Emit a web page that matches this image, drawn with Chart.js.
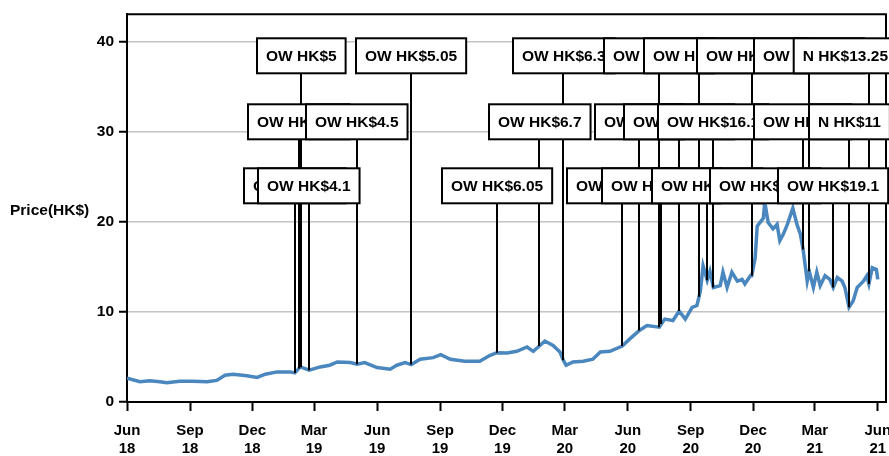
<!DOCTYPE html>
<html>
<head>
<meta charset="utf-8">
<script src="https://cdn.jsdelivr.net/npm/chart.js@4/dist/chart.umd.min.js"></script>
<style>
  html, body { margin: 0; padding: 0; background: #fff; }
</style>
</head>
<body>
<canvas id="priceChart" width="889" height="456"></canvas>
<script>
// price series (HK$)
var dates = [
  '2018-06-01','2018-06-20','2018-07-04','2018-07-19','2018-07-29','2018-08-17','2018-09-05','2018-09-26',
  '2018-10-10','2018-10-22','2018-11-03','2018-11-23','2018-12-08','2018-12-20','2019-01-06','2019-01-25',
  '2019-02-01','2019-02-09','2019-02-16','2019-02-22','2019-03-10','2019-03-24','2019-04-04','2019-04-23',
  '2019-05-03','2019-05-14','2019-06-01','2019-06-20','2019-06-30','2019-07-12','2019-07-21','2019-08-03',
  '2019-08-22','2019-09-02','2019-09-16','2019-10-07','2019-10-29','2019-11-13','2019-11-23','2019-12-08',
  '2019-12-22','2020-01-06','2020-01-15','2020-01-24','2020-02-01','2020-02-13','2020-02-23','2020-02-28',
  '2020-03-03','2020-03-13','2020-03-28','2020-04-11','2020-04-22','2020-05-06','2020-05-24','2020-06-04',
  '2020-06-18','2020-06-29','2020-07-17','2020-07-25','2020-08-06','2020-08-15','2020-08-24','2020-09-03',
  '2020-09-10','2020-09-15','2020-09-19','2020-09-25','2020-09-29','2020-10-04','2020-10-14','2020-10-18',
  '2020-10-24','2020-10-31','2020-11-08','2020-11-15','2020-11-19','2020-11-27','2020-11-29','2020-12-04',
  '2020-12-07','2020-12-16','2020-12-18','2020-12-23','2020-12-30','2021-01-05','2021-01-09','2021-01-14',
  '2021-01-20','2021-01-28','2021-02-03','2021-02-08','2021-02-12','2021-02-18','2021-02-21','2021-02-27',
  '2021-03-04','2021-03-09','2021-03-16','2021-03-23','2021-03-28','2021-04-03','2021-04-10','2021-04-14',
  '2021-04-20','2021-04-26','2021-05-02','2021-05-11','2021-05-16','2021-05-19','2021-05-24','2021-05-30',
  '2021-06-01'
];
var prices = [
  2.64, 2.24, 2.35, 2.24, 2.13, 2.3, 2.3, 2.24,
  2.4, 2.97, 3.08, 2.9, 2.72, 3.08, 3.34, 3.34,
  3.23, 3.89, 3.71, 3.53, 3.89, 4.08, 4.44, 4.37,
  4.19, 4.37, 3.82, 3.64, 4.08, 4.37, 4.15, 4.74,
  4.92, 5.25, 4.74, 4.52, 4.52, 5.18, 5.47, 5.43,
  5.62, 6.1, 5.62, 6.21, 6.76, 6.28, 5.54, 4.63,
  4.08, 4.44, 4.52, 4.74, 5.54, 5.62, 6.2, 7.0,
  7.93, 8.48, 8.3, 9.2, 9.04, 10.1, 9.2, 10.5,
  10.7, 12.3, 15.1, 13.5, 14.5, 12.7, 12.9, 14.4,
  12.7, 14.4, 13.4, 13.6, 13.1, 14.0, 14.0, 16.0,
  19.5, 20.4, 22.2, 19.9, 19.2, 19.7, 17.9, 18.6,
  19.7, 21.5, 19.7, 18.6, 16.9, 13.4, 14.5, 12.7,
  14.4, 12.9, 14.0, 13.6, 12.7, 13.8, 13.4, 12.7,
  10.5, 11.2, 12.7, 13.4, 14.0, 13.1, 14.9, 14.7,
  13.6
];

// rating callouts
var noteDates = [
  '2019-02-01','2019-02-07','2019-02-10','2019-02-22','2019-05-03','2019-07-21',
  '2019-11-23','2020-01-24','2020-02-28','2020-05-24','2020-06-18','2020-07-17',
  '2020-07-20','2020-08-15','2020-09-13','2020-09-25','2020-10-04','2020-11-29',
  '2020-12-18','2021-02-12','2021-02-21','2021-03-28','2021-04-20','2021-05-19'
];
var noteLabels = [
  'OW HK$4.3','OW HK$4.4','OW HK$5','OW HK$4.1','OW HK$4.5','OW HK$5.05',
  'OW HK$6.05','OW HK$6.7','OW HK$6.3','OW HK$6.45','OW HK$8','OW HK$9.35',
  'OW HK$10.15','OW HK$10.6','OW HK$12.3','OW HK$15.3','OW HK$16.1','OW HK$17.5',
  'OW HK$21.2','OW HK$23','OW HK$22.1','OW HK$19.1','N HK$11','N HK$13.25'
];

var yTicks = [0, 10, 20, 30, 40];
var xTickDates = ['2018-06-01','2018-09-01','2018-12-01','2019-03-01','2019-06-01','2019-09-01',
  '2019-12-01','2020-03-01','2020-06-01','2020-09-01','2020-12-01','2021-03-01','2021-06-01'];
var monthNames = ['Jan','Feb','Mar','Apr','May','Jun','Jul','Aug','Sep','Oct','Nov','Dec'];

var FONT = '"Liberation Sans", Arial, sans-serif';

function ts(d) {
  var p = d.split('-');
  return Date.UTC(+p[0], +p[1] - 1, +p[2]);
}

var points = dates.map(function (d, i) { return { x: ts(d), y: prices[i] }; });

function priceAt(t) {
  for (var i = 1; i < points.length; i++) {
    if (points[i].x >= t) {
      var a = points[i - 1], b = points[i];
      return a.y + (b.y - a.y) * (t - a.x) / (b.x - a.x);
    }
  }
  return points[points.length - 1].y;
}

var calloutPlugin = {
  id: 'callouts',
  afterDatasetsDraw: function (chart) {
    var ctx = chart.ctx, area = chart.chartArea;
    var xs = chart.scales.x, ys = chart.scales.y;
    var rowTops = [24, 90, 154], boxH = 35, padX = 9;

    ctx.save();
    // top / right frame
    ctx.strokeStyle = '#000';
    ctx.lineWidth = 2;
    ctx.beginPath();
    ctx.moveTo(area.left, area.top);
    ctx.lineTo(area.right, area.top);
    ctx.lineTo(area.right, area.bottom);
    ctx.stroke();

    // y axis title, horizontal
    ctx.fillStyle = '#000';
    ctx.font = 'bold 15.5px ' + FONT;
    ctx.textAlign = 'left';
    ctx.textBaseline = 'middle';
    ctx.fillText('Price(HK$)', 10, 211);

    var boxes = noteDates.map(function (d, i) {
      var t = ts(d);
      var row = 2 - (i % 3);
      var px = xs.getPixelForValue(t);
      var py = ys.getPixelForValue(priceAt(t));
      var w = ctx.measureText(noteLabels[i]).width + padX * 2;
      var left = Math.round(px - w / 2);
      if (left + w > chart.width + 8) left = chart.width + 8 - w;
      return { px: px, py: py, left: left, w: w, top: area.top + rowTops[row], label: noteLabels[i] };
    });

    // connectors
    ctx.lineWidth = 2;
    boxes.forEach(function (b) {
      ctx.beginPath();
      ctx.moveTo(Math.round(b.px), b.top + boxH);
      ctx.lineTo(Math.round(b.px), b.py);
      ctx.stroke();
    });

    // label boxes
    boxes.forEach(function (b) {
      ctx.fillStyle = '#fff';
      ctx.fillRect(b.left, b.top, b.w, boxH);
      ctx.strokeRect(b.left, b.top, b.w, boxH);
      ctx.fillStyle = '#000';
      ctx.fillText(b.label, b.left + padX, b.top + boxH / 2 + 1);
    });
    ctx.restore();
  }
};

var ctx = document.getElementById('priceChart').getContext('2d');
var priceChart = new Chart(ctx, {
  type: 'line',
  data: {
    datasets: [{
      label: 'Price',
      data: points,
      borderColor: '#4b87bf',
      borderWidth: 3.5,
      pointRadius: 0,
      tension: 0,
      fill: false
    }]
  },
  options: {
    responsive: false,
    animation: false,
    layout: { padding: { top: 12, right: 3, left: 0, bottom: 0 } },
    plugins: {
      legend: { display: false },
      tooltip: { enabled: false }
    },
    scales: {
      x: {
        type: 'linear',
        min: ts('2018-06-01'),
        max: ts('2021-06-13'),
        afterBuildTicks: function (scale) {
          scale.ticks = xTickDates.map(function (d) { return { value: ts(d) }; });
        },
        afterFit: function (scale) {
          scale.height = 54;
          scale.paddingLeft = 0;
          scale.paddingRight = 0;
        },
        grid: { drawOnChartArea: false, tickLength: 9, tickWidth: 2, tickColor: '#000' },
        border: { color: '#000', width: 2 },
        ticks: {
          autoSkip: false,
          maxRotation: 0,
          padding: 11,
          color: '#000',
          font: { family: FONT, size: 15, weight: 'bold', lineHeight: 1.2 },
          callback: function (v) {
            var d = new Date(v);
            return [monthNames[d.getUTCMonth()], String(d.getUTCFullYear()).slice(2)];
          }
        }
      },
      y: {
        min: 0,
        max: 43,
        afterBuildTicks: function (scale) {
          scale.ticks = yTicks.map(function (v) { return { value: v }; });
        },
        afterFit: function (scale) {
          scale.width = 127;
        },
        grid: { color: '#c4c4c4', lineWidth: 1.5, tickLength: 8, tickWidth: 2, tickColor: '#000' },
        border: { color: '#000', width: 2 },
        ticks: {
          padding: 5,
          color: '#000',
          font: { family: FONT, size: 15.5, weight: 'bold' }
        }
      }
    }
  },
  plugins: [calloutPlugin]
});
</script>
</body>
</html>
